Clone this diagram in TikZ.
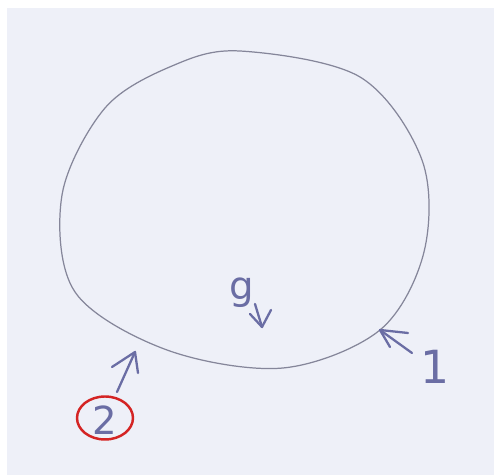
\documentclass[tikz,border=0pt]{standalone}
\usepackage{fontspec}
\setmainfont{DejaVu Sans}
\usetikzlibrary{shapes.geometric}
\definecolor{paper}{HTML}{EEF0F8}
\definecolor{pencil}{HTML}{85869A}
\definecolor{ink}{HTML}{6A6DA4}
\definecolor{redink}{HTML}{D42424}
\tikzset{
  pen/.style={draw=ink, line width=1.3pt, line cap=round, line join=round},
  label/.style={text=ink, inner sep=0pt, font=\fontsize{22}{24}\selectfont}
}
\begin{document}
\begin{tikzpicture}[x=0.02cm,y=-0.02cm]
\useasboundingbox (0,0) rectangle (494,475);
\fill[white] (0,0) rectangle (494,475);
\fill[paper] (7,8) rectangle (494,475);
% body outline
\draw[pencil, line width=0.7pt] plot[smooth cycle, tension=0.55] coordinates {
 (240,51) (360,77) (422,160) (424,252) (380,330) (283,368)
 (167,350) (75,292) (62,195) (105,108) (172,66)};
% g with downward arrow
\node[label] (g) at (242,293) {g};
\coordinate (gt) at (255,304);
\coordinate (gh) at (262,327);
\draw[pen] (gt) -- (gh);
\draw[pen] (250,314) -- (gh) -- (271,310);
% arrow 1
\node[label, font=\fontsize{26}{28}\selectfont] (one) at (435,367) {1};
\coordinate (p1) at (380,330);
\coordinate (t1) at (412,353);
\draw[pen] (t1) -- (p1);
\draw[pen] (408,333) -- (p1) -- (390,347);
% arrow 2
\node[draw=redink, line width=1.4pt, ellipse, inner sep=0pt,
      minimum width=1.12cm, minimum height=0.86cm] (c2) at (105,418) {};
\node[label] (two) at (105,420) {2};
\coordinate (t2) at (117,392);
\coordinate (p2) at (135,352);
\draw[pen] (t2) -- (p2);
\draw[pen] (112,367) -- (p2) -- (138,373);
\end{tikzpicture}
\end{document}
